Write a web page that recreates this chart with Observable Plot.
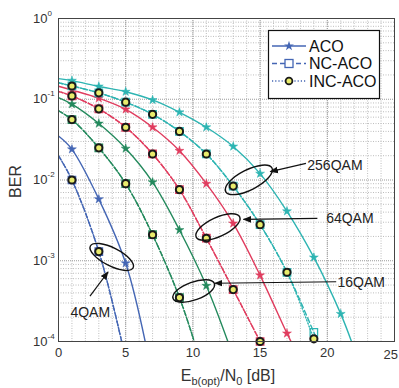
<!DOCTYPE html>
<html><head><meta charset="utf-8">
<script src="https://cdn.jsdelivr.net/npm/d3@7"></script>
<script src="https://cdn.jsdelivr.net/npm/@observablehq/plot@0.6"></script>
<style>
body{margin:0;background:#fff;font-family:"Liberation Sans",Arial,sans-serif;}
#wrap{position:relative;width:399px;height:388px;}
</style></head><body><div id="wrap"></div>
<script>
// ---- axis ticks ----
const xTicks = [0, 5, 10, 15, 20, 25];
const yTicks = [1e-4, 1e-3, 1e-2, 1e-1, 1];
const yTickExp = ["-4", "-3", "-2", "-1", "0"];

// ---- series (Eb(opt)/N0 in dB, BER) ----
const aco4X = [0, 1, 3, 5, 6.45];
const aco4Y = [0.035, 0.024, 0.0058, 0.00093, 1e-4];
const nc4X  = [0, 1, 3, 4.7];
const nc4Y  = [0.02, 0.010, 0.0013, 1e-4];
const inc4X = [0, 1, 3, 4.7];
const inc4Y = [0.02, 0.010, 0.0013, 1e-4];

const aco16X = [0, 1, 3, 5, 7, 9, 11, 12.6];
const aco16Y = [0.105, 0.087, 0.05, 0.0245, 0.0094, 0.0024, 0.00049, 1e-4];
const nc16X  = [0, 1, 3, 5, 7, 9, 10.1];
const nc16Y  = [0.072, 0.056, 0.025, 0.009, 0.0021, 0.00035, 1e-4];
const inc16X = [0, 1, 3, 5, 7, 9, 10.1];
const inc16Y = [0.072, 0.056, 0.025, 0.009, 0.0021, 0.00035, 1e-4];

const aco64X = [0, 1, 3, 5, 7, 9, 11, 13, 15, 17, 17.3];
const aco64Y = [0.145, 0.13, 0.103, 0.075, 0.045, 0.023, 0.009, 0.0029, 0.00066, 0.000126, 1e-4];
const nc64X  = [0, 1, 3, 5, 7, 9, 11, 13, 15.0];
const nc64Y  = [0.125, 0.11, 0.076, 0.045, 0.021, 0.0076, 0.0019, 0.00044, 1e-4];
const inc64X = [0, 1, 3, 5, 7, 9, 11, 13, 15.0];
const inc64Y = [0.125, 0.11, 0.076, 0.045, 0.021, 0.0076, 0.0019, 0.00044, 1e-4];

const aco256X = [0, 1, 3, 5, 7, 9, 11, 13, 15, 17, 19, 21, 21.8];
const aco256Y = [0.18, 0.17, 0.144, 0.124, 0.098, 0.069, 0.045, 0.026, 0.012, 0.0041, 0.0011, 0.00022, 1e-4];
const nc256X  = [0, 1, 3, 5, 7, 9, 11, 13, 15, 17, 19, 19.3];
const nc256Y  = [0.16, 0.146, 0.12, 0.092, 0.065, 0.040, 0.021, 0.0084, 0.0028, 0.00072, 0.00013, 1e-4];
const inc256X = [0, 1, 3, 5, 7, 9, 11, 13, 15, 17, 19, 19.08];
const inc256Y = [0.16, 0.146, 0.12, 0.092, 0.065, 0.040, 0.021, 0.0084, 0.0028, 0.00072, 0.000108, 1e-4];

const modNames = ["4QAM", "16QAM", "64QAM", "256QAM"];
const modColors = ["#4466b4", "#23895c", "#e03c5e", "#2db4b2"];
const schemes = ["ACO", "NC-ACO", "INC-ACO"];

// annotation anchors in data units (x dB, BER)
const annLabels   = ["256QAM", "64QAM", "16QAM", "4QAM"];
const annEllipseX = [14.2, 11.9, 10.1, 4.0];
const annEllipseY = [0.0099, 0.00258, 0.000416, 0.0011];
const annArrowFromX = [18.45, 19.3, 20.7, 2.38];
const annArrowFromY = [0.0158, 0.0033, 0.000542, 0.00036];
const annArrowToX   = [15.8, 13.8, 11.67, 3.72];
const annArrowToY   = [0.0125, 0.0032, 0.000519, 0.000715];
const annTextX = [18.55, 19.95, 20.8, 2.4];
const annTextY = [0.0151, 0.0033, 0.000542, 0.00023];

// ---- helpers ----
const pts = (xs, ys) => xs.map((x, i) => ({x, y: ys[i]}));
const odd = (xs, ys) => pts(xs, ys).filter(d => Number.isInteger(d.x) && d.x % 2 === 1);

const acoSets = [[aco4X, aco4Y], [aco16X, aco16Y], [aco64X, aco64Y], [aco256X, aco256Y]];
const ncSets  = [[nc4X, nc4Y], [nc16X, nc16Y], [nc64X, nc64Y], [nc256X, nc256Y]];
const incSets = [[inc4X, inc4Y], [inc16X, inc16Y], [inc64X, inc64Y], [inc256X, inc256Y]];

const minorX = d3.range(0, 26, 1);
const minorY = [];
for (let e = -4; e < 0; e++) for (let k = 2; k <= 9; k++) minorY.push(k * Math.pow(10, e));

const lineOpts = (c, dash) => ({x: "x", y: "y", stroke: c, strokeWidth: 1.4, curve: "catmull-rom", clip: true, strokeDasharray: dash});
const INC_FILL = "#e9ec6c";
const FONT = "'Liberation Sans', Arial, sans-serif";

const marks = [
  Plot.gridX(minorX, {stroke: "#bdbdbd", strokeOpacity: 1, strokeDasharray: "1,1.5"}),
  Plot.gridY(minorY, {stroke: "#bdbdbd", strokeOpacity: 1, strokeDasharray: "1,1.5"}),
  Plot.gridX(xTicks, {stroke: "#9a9a9a", strokeOpacity: 1, strokeDasharray: "1,1"}),
  Plot.gridY(yTicks, {stroke: "#9a9a9a", strokeOpacity: 1, strokeDasharray: "1,1"}),
  Plot.axisX({ticks: xTicks.slice(0, -1), tickSize: 0, tickPadding: 6, label: null, fontSize: 13})
];
modColors.forEach((c, i) => {
  marks.push(Plot.line(pts(...acoSets[i]), lineOpts(c, null)));
  marks.push(Plot.line(pts(...ncSets[i]), lineOpts(c, "5,3")));
  marks.push(Plot.line(pts(...incSets[i]), lineOpts(c, "1.2,2")));
});
modColors.forEach((c, i) => {
  marks.push(Plot.dot(odd(...acoSets[i]), {x: "x", y: "y", symbol: "star", r: 2.8, fill: c, stroke: c, strokeWidth: 0.5}));
  marks.push(Plot.dot(odd(...ncSets[i]), {x: "x", y: "y", symbol: "square", r: 4.2, fill: "none", stroke: c, strokeWidth: 1.3}));
  marks.push(Plot.dot(odd(...incSets[i]), {x: "x", y: "y", symbol: "circle", r: 3.6, fill: INC_FILL, stroke: "#1a1a1a", strokeWidth: 2}));
});
marks.push(Plot.frame({stroke: "#444", strokeWidth: 1}));

const chart = Plot.plot({
  width: 399, height: 388,
  marginLeft: 58, marginRight: 5, marginTop: 18, marginBottom: 47,
  style: {fontFamily: FONT, fontSize: "13px", color: "#333", background: "#fff", overflow: "visible"},
  x: {domain: [0, 25]},
  y: {type: "log", domain: [1e-4, 1], axis: null},
  marks
});
document.getElementById("wrap").appendChild(chart);

// ---- post-render decorations in pixel space derived from scales ----
const sx = chart.scale("x"), sy = chart.scale("y");
const X = v => sx.apply(v), Y = v => sy.apply(v);
const svg = d3.select(chart);

svg.append("defs").append("marker")
  .attr("id", "ah").attr("viewBox", "0 0 10 10").attr("refX", 9).attr("refY", 5)
  .attr("markerWidth", 7).attr("markerHeight", 7).attr("orient", "auto")
  .append("path").attr("d", "M0,1 L10,5 L0,9 z").attr("fill", "#111");

// last x tick label, kept inside the picture edge
svg.append("text").attr("x", 398).attr("y", Y(1e-4) + 17.5).attr("text-anchor", "end").attr("fill", "#333")
  .style("font-family", FONT).style("font-size", "13px").text(String(xTicks[xTicks.length - 1]));

// y tick labels 10^n (single text element with superscript tspan)
yTicks.forEach((t, i) => {
  const g = svg.append("text").attr("x", 33).attr("y", Y(t) + 4.5)
    .attr("text-anchor", "start").attr("fill", "#333")
    .style("font-family", FONT).style("font-size", "13px");
  g.append("tspan").text("10");
  g.append("tspan").attr("dy", -7).style("font-size", "8px").text(yTickExp[i]);
});

// axis titles
svg.append("text").attr("transform", `translate(21,${(Y(1) + Y(1e-4)) / 2 + 2}) rotate(-90)`)
  .attr("text-anchor", "middle").attr("fill", "#333")
  .style("font-family", FONT).style("font-size", "16px").text("BER");
const xl = svg.append("text").attr("x", (X(0) + X(25)) / 2 + 2).attr("y", 381)
  .attr("text-anchor", "middle").attr("fill", "#333")
  .style("font-family", FONT).style("font-size", "16px");
xl.append("tspan").text("E");
xl.append("tspan").attr("dy", 4).style("font-size", "11px").text("b(opt)");
xl.append("tspan").attr("dy", -4).text("/N");
xl.append("tspan").attr("dy", 4).style("font-size", "11px").text("0");
xl.append("tspan").attr("dy", -4).text(" [dB]");

// annotations
const rx = [26, 24, 22, 24], ry = [10, 9.5, 9, 9], rot = [-27, -25, -20, 27];
annLabels.forEach((lab, i) => {
  svg.append("ellipse").attr("cx", 0).attr("cy", 0).attr("rx", rx[i]).attr("ry", ry[i])
    .attr("transform", `translate(${X(annEllipseX[i])},${Y(annEllipseY[i])}) rotate(${rot[i]})`)
    .attr("fill", "none").attr("stroke", "#111").attr("stroke-width", 1.4);
  svg.append("line").attr("x1", X(annArrowFromX[i])).attr("y1", Y(annArrowFromY[i]))
    .attr("x2", X(annArrowToX[i])).attr("y2", Y(annArrowToY[i]))
    .attr("stroke", "#111").attr("stroke-width", 1.2).attr("marker-end", "url(#ah)");
  svg.append("text").attr("x", X(annTextX[i])).attr("y", Y(annTextY[i]) + 5)
    .attr("text-anchor", i === 3 ? "middle" : "start").attr("fill", "#222")
    .style("font-family", FONT).style("font-size", "14px").text(lab);
});

// legend
const lg = svg.append("g");
lg.append("rect").attr("x", 268.5).attr("y", 30.5).attr("width", 111).attr("height", 68)
  .attr("fill", "#fff").attr("stroke", "#111").attr("stroke-width", 1.2);
const legendDash = [null, "5,3", "1.2,2"];
schemes.forEach((s, i) => {
  const yy = 46 + i * 17.5;
  lg.append("line").attr("x1", 272).attr("x2", 306).attr("y1", yy).attr("y2", yy)
    .attr("stroke", modColors[0]).attr("stroke-width", 1.4).attr("stroke-dasharray", legendDash[i]);
  if (i === 0) lg.append("path").attr("d", d3.symbol(d3.symbolStar, 30)()).attr("transform", `translate(289,${yy})`).attr("fill", modColors[0]);
  if (i === 1) lg.append("rect").attr("x", 285).attr("y", yy - 4).attr("width", 8).attr("height", 8).attr("fill", "#fff").attr("stroke", modColors[0]).attr("stroke-width", 1.3);
  if (i === 2) lg.append("circle").attr("cx", 289).attr("cy", yy).attr("r", 3.4).attr("fill", INC_FILL).attr("stroke", "#1a1a1a").attr("stroke-width", 1.8);
  lg.append("text").attr("x", 309).attr("y", yy + 5.5).attr("text-anchor", "start").attr("fill", "#111")
    .style("font-family", FONT).style("font-size", "16px").text(s);
});
</script></body></html>
